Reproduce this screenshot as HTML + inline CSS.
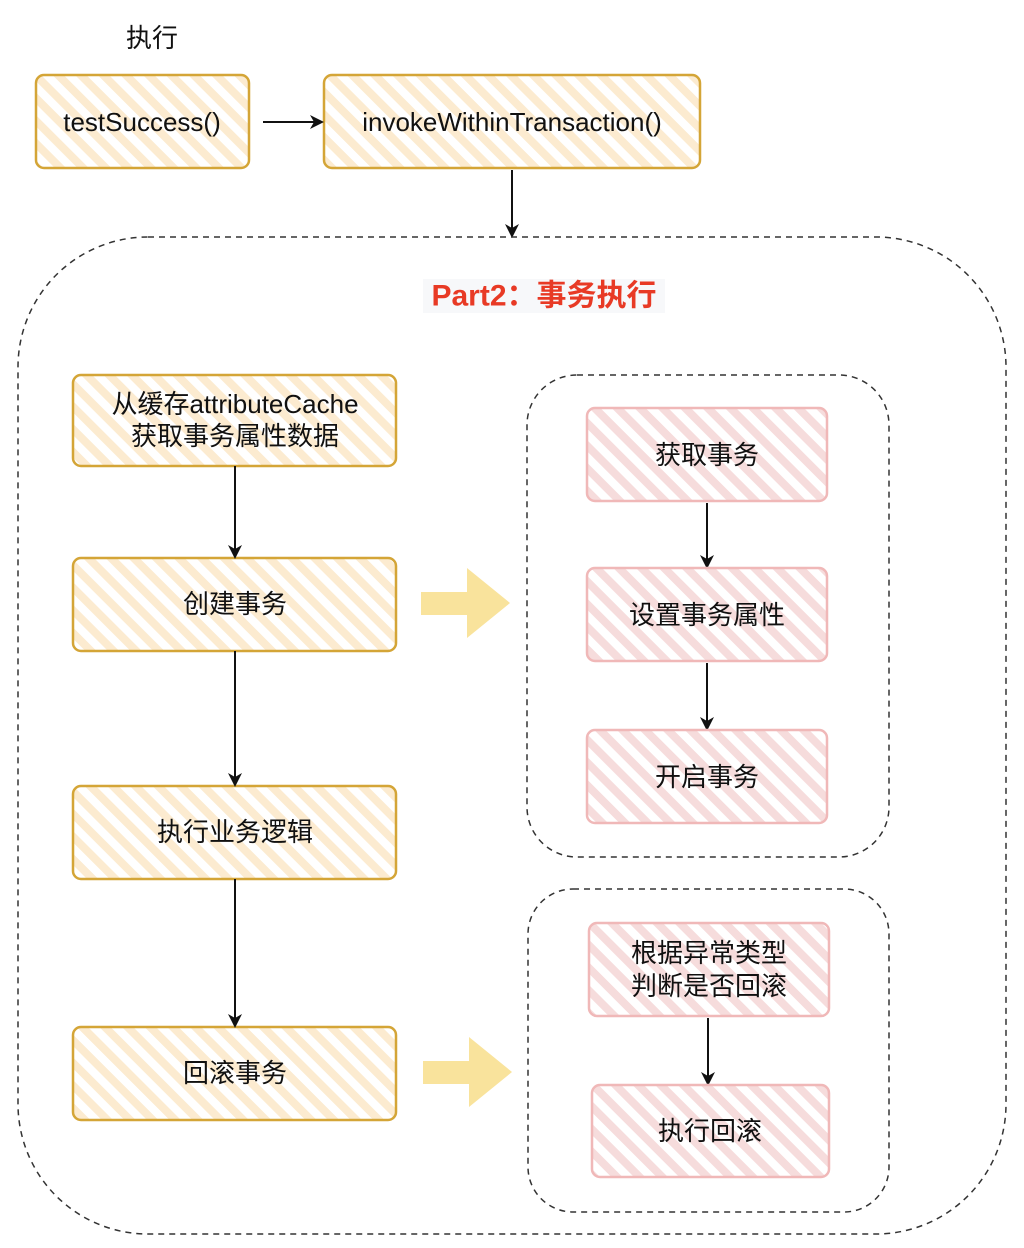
<!DOCTYPE html>
<html><head><meta charset="utf-8"><style>
html,body{margin:0;padding:0;background:#fff;}
svg{display:block}
text{font-family:"Liberation Sans","Noto Sans CJK SC",sans-serif;font-size:26px;fill:#111;text-anchor:middle;dominant-baseline:central}
</style></head><body>
<svg width="1024" height="1248" viewBox="0 0 1024 1248" xmlns="http://www.w3.org/2000/svg">
<defs>
<pattern id="hy" patternUnits="userSpaceOnUse" width="16" height="16" patternTransform="rotate(-45)">
<rect width="16" height="16" fill="#fff"/><rect x="0" y="0" width="8" height="16" fill="#fcebd0"/>
</pattern>
<pattern id="hp" patternUnits="userSpaceOnUse" width="16" height="16" patternTransform="rotate(-45)">
<rect width="16" height="16" fill="#fff"/><rect x="0" y="0" width="8" height="16" fill="#f6dcdc"/>
</pattern>
<marker id="ar" markerWidth="14" markerHeight="14" refX="12" refY="7" orient="auto" markerUnits="userSpaceOnUse">
<path d="M0,0 L14,7 L0,14 L4,7 Z" fill="#111"/></marker>
</defs>

<text x="152" y="38">执行</text>

<g stroke="#d4a537" stroke-width="2.5">
<rect x="36" y="75" width="213" height="93" rx="8" fill="url(#hy)"/>
<rect x="324" y="75" width="376" height="93" rx="8" fill="url(#hy)"/>
<rect x="73" y="375" width="323" height="91" rx="8" fill="url(#hy)"/>
<rect x="73" y="558" width="323" height="93" rx="8" fill="url(#hy)"/>
<rect x="73" y="786" width="323" height="93" rx="8" fill="url(#hy)"/>
<rect x="73" y="1027" width="323" height="93" rx="8" fill="url(#hy)"/>
</g>
<text x="142" y="122">testSuccess()</text>
<text x="512" y="122">invokeWithinTransaction()</text>
<text x="235" y="404">从缓存attributeCache</text>
<text x="235" y="436">获取事务属性数据</text>
<text x="235" y="604">创建事务</text>
<text x="235" y="832">执行业务逻辑</text>
<text x="235" y="1073">回滚事务</text>

<g stroke="#111" stroke-width="2" fill="none">
<line x1="263" y1="122" x2="322" y2="122" marker-end="url(#ar)"/>
<line x1="512" y1="170" x2="512" y2="236" marker-end="url(#ar)"/>
<line x1="235" y1="466" x2="235" y2="557" marker-end="url(#ar)"/>
<line x1="235" y1="651" x2="235" y2="785" marker-end="url(#ar)"/>
<line x1="235" y1="879" x2="235" y2="1026" marker-end="url(#ar)"/>
<line x1="707" y1="503" x2="707" y2="567" marker-end="url(#ar)"/>
<line x1="707" y1="663" x2="707" y2="729" marker-end="url(#ar)"/>
<line x1="708" y1="1018" x2="708" y2="1084" marker-end="url(#ar)"/>
</g>

<g stroke="#333" stroke-width="1.5" fill="none" stroke-dasharray="6 5">
<rect x="18" y="237" width="988" height="997" rx="130"/>
<rect x="527" y="375" width="362" height="482" rx="50"/>
<rect x="528" y="889" width="361" height="323" rx="45"/>
</g>

<rect x="423" y="279" width="242" height="34" fill="#f7f8fa"/>
<text x="544" y="296" style="fill:#e83a25;font-weight:bold;font-size:30px">Part2：事务执行</text>

<g stroke="#f0b8b8" stroke-width="2.5">
<rect x="587" y="408" width="240" height="93" rx="8" fill="url(#hp)"/>
<rect x="587" y="568" width="240" height="93" rx="8" fill="url(#hp)"/>
<rect x="587" y="730" width="240" height="93" rx="8" fill="url(#hp)"/>
<rect x="589" y="923" width="240" height="93" rx="8" fill="url(#hp)"/>
<rect x="592" y="1085" width="237" height="92" rx="8" fill="url(#hp)"/>
</g>
<text x="707" y="455">获取事务</text>
<text x="707" y="615">设置事务属性</text>
<text x="707" y="777">开启事务</text>
<text x="709" y="953">根据异常类型</text>
<text x="709" y="986">判断是否回滚</text>
<text x="710" y="1131">执行回滚</text>

<g fill="#f9e39c">
<path d="M421,592 H467 V568 L510,603 L467,638 V615 H421 Z"/>
<path d="M423,1061 H469 V1037 L512,1072 L469,1107 V1084 H423 Z"/>
</g>
</svg>
</body></html>
